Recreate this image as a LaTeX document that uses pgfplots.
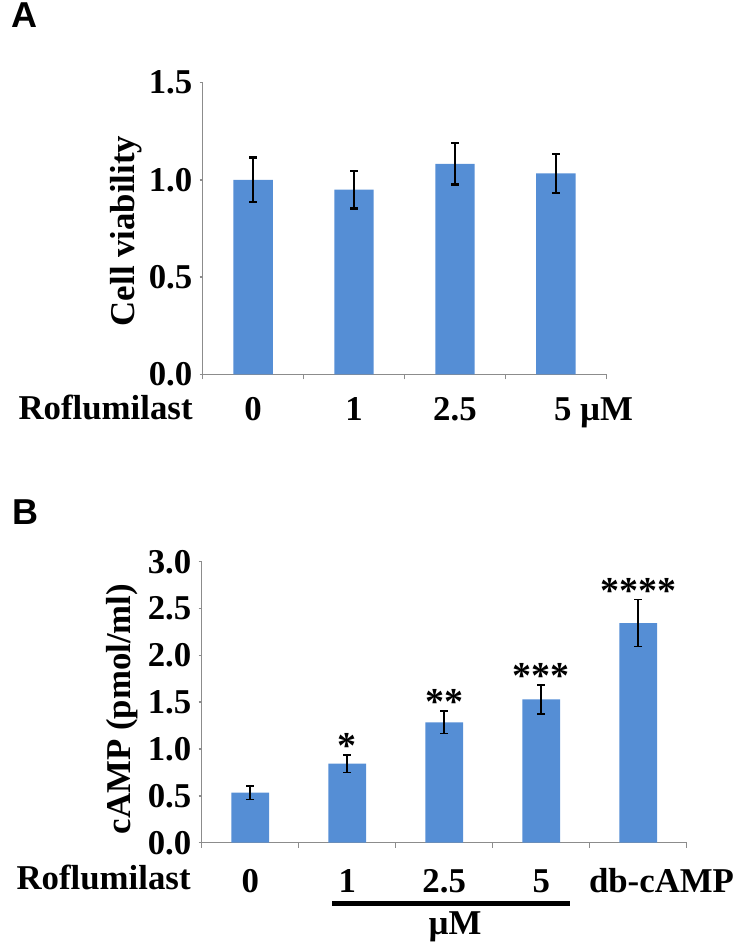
\documentclass[border=0pt]{standalone}
\usepackage{pgfplots}
\pgfplotsset{compat=1.18}
\usepackage{fontspec}
\setmainfont{Liberation Serif}
\newfontfamily\sansfont{Liberation Sans}
\definecolor{barblue}{HTML}{558ED5}
\definecolor{axisgray}{HTML}{8C8C8C}
\newcommand\lbl{\bfseries\fontsize{17.4bp}{20bp}\selectfont}
\newcommand\starfont{\bfseries\fontsize{19bp}{20bp}\selectfont}
\pgfplotsset{
  panel/.style={
    anchor=south west, scale only axis,
    ymin=0,
    axis x line*=bottom, axis y line*=left,
    axis line style={axisgray, line width=0.7bp},
    tick align=outside,
    major tick length=1.5bp, minor tick length=2.5bp,
    tick style={axisgray, line width=0.7bp},
    major x tick style={draw=none},
    tick label style={font=\lbl},
    /pgf/number format/assume math mode=true,
    y tick label style={/pgf/number format/fixed, /pgf/number format/fixed zerofill, /pgf/number format/precision=1, anchor=east, inner sep=0pt, xshift=-3.5bp},
    xticklabel style={anchor=base, inner sep=0pt},
  },
  barplot/.style={
    ybar, bar width=0.39, fill=barblue, draw=none,
    error bars/.cd, y dir=both, y explicit,
    error bar style={black, line width=#1},
    error mark options={black, rotate=90, mark size=1.9bp, line width=#1},
  },
}
\begin{document}
\begin{tikzpicture}[x=0.5bp,y=0.5bp]
\path (0,0) rectangle (735,946);
\coordinate (A0) at (202.7,571.7);
\coordinate (B0) at (201.7,103.3);
% ---------- Panel A ----------
\node[font=\sansfont\bfseries\fontsize{18bp}{20bp}\selectfont, inner sep=0pt] at (24,931) {A};
\begin{axis}[panel,
  at={(A0)}, width=201.8bp, height=145.8bp,
  xmin=-0.5, xmax=3.5, ymax=1.5,
  ytick={0,0.5,1,1.5},
  xtick={0,1,2,3},
  xticklabels={0,1,2.5,{\makebox[0pt][l]{\hspace*{-0.9bp}5 µM}}},
  minor xtick={-0.5,0.5,1.5,2.5,3.5},
  xticklabel style={yshift=-21.5bp},
]
\addplot[barplot=1.2bp] table[x=x,y=y,y error=e] {
x y e
0 1.000 0.115
1 0.950 0.097
2 1.083 0.107
3 1.033 0.100
};
\end{axis}
\node[font=\lbl, anchor=base east, inner sep=0pt] at (193,526) {Roflumilast};
\node[font=\lbl, rotate=90, inner sep=0pt] at (126.5,715) {Cell viability};
% ---------- Panel B ----------
\node[font=\sansfont\bfseries\fontsize{18bp}{20bp}\selectfont, inner sep=0pt] at (25,433.5) {B};
\begin{axis}[panel,
  at={(B0)}, width=242.5bp, height=140.5bp,
  xmin=-0.5, xmax=4.5, ymax=3.0,
  ytick={0,0.5,1,1.5,2,2.5,3},
  xtick={0,1,2,3,4},
  xticklabels={0,1,2.5,5,{\makebox[0pt][l]{\hspace*{-24.6bp}db-cAMP}}},
  minor xtick={-0.5,0.5,1.5,2.5,3.5,4.5},
  xticklabel style={yshift=-23.5bp},
]
\addplot[barplot=0.8bp] table[x=x,y=y,y error=e] {
x y e
0 0.534 0.071
1 0.843 0.093
2 1.285 0.120
3 1.531 0.155
4 2.345 0.252
};
\node[font=\starfont, anchor=base, inner sep=0pt, yshift=-1.8bp] at (axis cs:1,0.936) {*};
\node[font=\starfont, anchor=base, inner sep=0pt, yshift=-1.8bp] at (axis cs:2,1.405) {**};
\node[font=\starfont, anchor=base, inner sep=0pt, yshift=-1.8bp] at (axis cs:3,1.686) {***};
\node[font=\starfont, anchor=base, inner sep=0pt, yshift=-1.8bp] at (axis cs:4,2.597) {****};
\end{axis}
\node[font=\lbl, anchor=base east, inner sep=0pt] at (191,56) {Roflumilast};
\node[font=\lbl, rotate=90, inner sep=0pt] at (122.5,237) {cAMP (pmol/ml)};
\draw[line width=2.7bp] (332,42.7) -- (570,42.7);
\node[font=\lbl, anchor=base, inner sep=0pt] at (455,11) {µM};
\end{tikzpicture}
\end{document}
